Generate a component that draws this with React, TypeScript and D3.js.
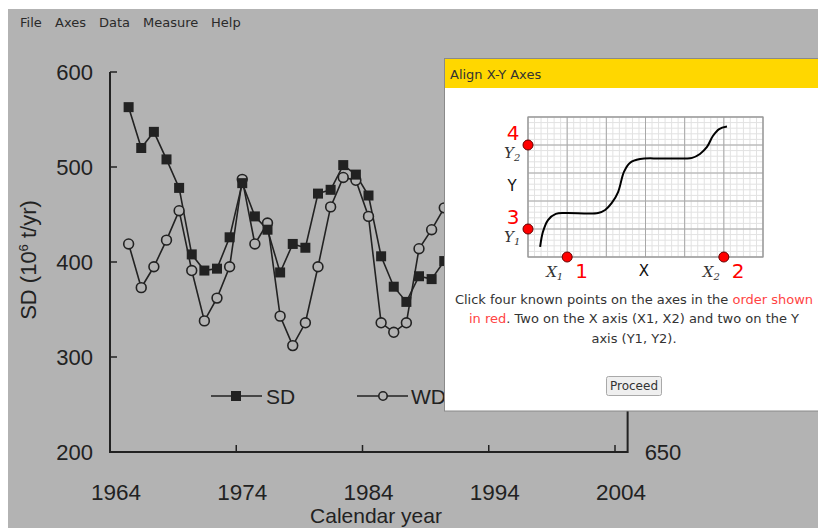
import React from 'react';
import * as d3 from 'd3';

// series (years hidden by the dialog are left out)
const years = [1965, 1966, 1967, 1968, 1969, 1970, 1971, 1972, 1973, 1974, 1975, 1976, 1977,
  1978, 1979, 1980, 1981, 1982, 1983, 1984, 1985, 1986, 1987, 1988, 1989, 1990];
const sdValues = [563, 520, 537, 508, 478, 408, 391, 393, 426, 483, 448, 434, 389,
  419, 415, 472, 476, 502, 492, 470, 406, 374, 358, 385, 382, 401];
const wdValues = [419, 373, 395, 423, 454, 391, 338, 362, 395, 487, 419, 441, 343,
  312, 336, 395, 458, 489, 486, 448, 336, 326, 336, 414, 434, 457];

const xTicks = [1964, 1974, 1984, 1994, 2004];
const yTicks = [200, 300, 400, 500, 600];
const rightLabel = '650';

const menuItems = ['File', 'Axes', 'Data', 'Measure', 'Help'];

// little sketch inside the dialog, in grid units (6 x 5)
const sketchCurve: [number, number][] = [
  [0.31, 0.36], [0.38, 0.89], [0.51, 1.32], [0.71, 1.54], [0.97, 1.57], [1.79, 1.57],
  [1.97, 1.68], [2.14, 1.93], [2.3, 2.32], [2.45, 3.04], [2.6, 3.36], [2.86, 3.5],
  [3.37, 3.52], [4.01, 3.52], [4.19, 3.54], [4.39, 3.68], [4.57, 3.93], [4.72, 4.32],
  [4.88, 4.57], [5.08, 4.66],
];
const sketchDots: { gx: number; gy: number; num: string; label: string; axis: 'x' | 'y' }[] = [
  { gx: 1, gy: 0, num: '1', label: 'X', axis: 'x' },
  { gx: 5, gy: 0, num: '2', label: 'X', axis: 'x' },
  { gx: 0, gy: 1, num: '3', label: 'Y', axis: 'y' },
  { gx: 0, gy: 4, num: '4', label: 'Y', axis: 'y' },
];

const BG = '#b3b3b3';
const INK = '#222';
const ARIAL = '"Liberation Sans", Arial, sans-serif';
const DEJAVU = '"DejaVu Sans", Verdana, sans-serif';

const App = () => {
  const width = 818;
  const height = 528;

  // data scale (points line up with tick labels; the scanned ticks sit 6px left)
  const x = d3.scaleLinear().domain([1964, 2004]).range([116, 621]);
  const tickShift = -6;
  const y = d3.scaleLinear().domain([200, 600]).range([452, 72]);
  const x0 = x(1964) + tickShift;
  const xEnd = x(2005) + tickShift;

  const sdLine = d3.line<number>().x((_, i) => x(years[i])).y((d) => y(d))(sdValues) || undefined;
  const wdLine = d3.line<number>().x((_, i) => x(years[i])).y((d) => y(d))(wdValues) || undefined;

  // dialog sketch scales
  const gx = d3.scaleLinear().domain([0, 6]).range([528, 763]);
  const gy = d3.scaleLinear().domain([0, 5]).range([257, 117]);
  const minorX = d3.range(0, 6.0001, 1 / 6);
  const minorY = d3.range(0, 5.0001, 1 / 5);
  const curve = d3.line().x((d) => gx(d[0])).y((d) => gy(d[1])).curve(d3.curveCatmullRom)(sketchCurve) || undefined;

  const dialogX = 444.5;
  const dialogY = 58.5;
  const dialogBottom = 411;

  return (
    <svg width={width} height={height} style={{ position: 'absolute', left: 0, top: 0 }}>
      <rect x={0} y={0} width={width} height={height} fill="#fff" />
      <rect x={8} y={9} width={width - 8} height={height - 9} fill={BG} />

      {/* menu */}
      <g fontFamily={DEJAVU} fontSize={13} fill="#2a2a2a">
        {menuItems.map((m, i) => (
          <text key={m} x={[20, 55, 99, 143, 211][i]} y={27}>{m}</text>
        ))}
      </g>

      {/* scanned chart */}
      <g stroke={INK} strokeWidth={2} fill="none">
        <line x1={x0} x2={x0} y1={y(600)} y2={y(200) + 1} />
        <line x1={x0} x2={xEnd} y1={y(200)} y2={y(200)} />
        <line x1={xEnd} x2={xEnd} y1={y(600)} y2={y(200) + 1} />
        {yTicks.map((t) => (
          <line key={t} x1={x0} x2={x0 + 7} y1={y(t)} y2={y(t)} strokeWidth={1.5} />
        ))}
        {xTicks.map((t) => (
          <line key={t} x1={x(t) + tickShift} x2={x(t) + tickShift} y1={y(200)} y2={y(200) - 7} strokeWidth={1.5} />
        ))}
      </g>
      <g fontFamily={ARIAL} fill={INK}>
        {yTicks.map((t) => (
          <text key={t} x={93} y={y(t) + 8} textAnchor="end" fontSize={22}>{t}</text>
        ))}
        {xTicks.map((t) => (
          <text key={t} x={x(t)} y={500} textAnchor="middle" fontSize={22.5}>{t}</text>
        ))}
        <text x={xEnd + 17} y={460} fontSize={22}>{rightLabel}</text>
        <text x={376} y={523} textAnchor="middle" fontSize={21}>Calendar year</text>
        <text transform="translate(36, 260) rotate(-90)" textAnchor="middle" fontSize={22}>
          SD (10<tspan dy={-8} fontSize={13}>6</tspan><tspan dy={8}> t/yr)</tspan>
        </text>
      </g>

      {/* series */}
      <path d={wdLine} fill="none" stroke={INK} strokeWidth={1.6} />
      <path d={sdLine} fill="none" stroke={INK} strokeWidth={1.6} />
      {wdValues.map((v, i) => (
        <circle key={`w${i}`} cx={x(years[i])} cy={y(v)} r={4.9} fill={BG} stroke={INK} strokeWidth={1.6} />
      ))}
      {sdValues.map((v, i) => (
        <rect key={`s${i}`} x={x(years[i]) - 5} y={y(v) - 5} width={10} height={10} fill={INK} />
      ))}

      {/* legend */}
      <g stroke={INK} strokeWidth={1.6}>
        <line x1={211} x2={262} y1={396} y2={396} />
        <rect x={231} y={391} width={10} height={10} fill={INK} stroke="none" />
        <line x1={357} x2={408} y1={396} y2={396} />
        <circle cx={383} cy={396} r={4.2} fill={BG} />
      </g>
      <g fontFamily={ARIAL} fontSize={21} fill={INK}>
        <text x={266} y={404}>SD</text>
        <text x={411} y={404}>WD</text>
      </g>

      {/* dialog */}
      <rect x={dialogX} y={dialogY} width={width} height={dialogBottom - dialogY} fill="#fff" stroke="#8a8a8a" strokeWidth={1} />
      <rect x={dialogX + 0.5} y={dialogY + 0.5} width={width} height={29} fill="#ffd700" />
      <text x={450} y={79} fontFamily={DEJAVU} fontSize={13} fill="#333">Align X-Y Axes</text>

      <g>
        {minorX.map((v, i) => (
          <line key={`mx${i}`} x1={gx(v)} x2={gx(v)} y1={gy(0)} y2={gy(5)} stroke="#e2e2e2" strokeWidth={1} />
        ))}
        {minorY.map((v, i) => (
          <line key={`my${i}`} x1={gx(0)} x2={gx(6)} y1={gy(v)} y2={gy(v)} stroke="#e2e2e2" strokeWidth={1} />
        ))}
        {d3.range(0, 7).map((v) => (
          <line key={`Mx${v}`} x1={gx(v)} x2={gx(v)} y1={gy(0)} y2={gy(5)} stroke="#a8a8a8" strokeWidth={1} />
        ))}
        {d3.range(0, 6).map((v) => (
          <line key={`My${v}`} x1={gx(0)} x2={gx(6)} y1={gy(v)} y2={gy(v)} stroke="#a8a8a8" strokeWidth={1} />
        ))}
        <rect x={gx(0)} y={gy(5)} width={gx(6) - gx(0)} height={gy(0) - gy(5)} fill="none" stroke="#999" strokeWidth={1.2} />
        <path d={curve} fill="none" stroke="#000" strokeWidth={2} />
        {sketchDots.map((d) => (
          <circle key={d.num} cx={gx(d.gx)} cy={gy(d.gy)} r={5} fill="#f00" stroke="#600" strokeWidth={1} />
        ))}
        {sketchDots.map((d) => {
          const cx = gx(d.gx);
          const cy = gy(d.gy);
          const sub = d.axis === 'x' ? (d.num === '1' ? '1' : '2') : d.num === '3' ? '1' : '2';
          return d.axis === 'x' ? (
            <g key={`l${d.num}`}>
              <text x={cx - 21} y={277} fontFamily='"DejaVu Serif", serif' fontStyle="italic" fontSize={15} fill="#333">
                {d.label}<tspan dy={3} fontSize={10}>{sub}</tspan>
              </text>
              <text x={cx + 8} y={278} fontFamily={DEJAVU} fontSize={20} fill="#f00">{d.num}</text>
            </g>
          ) : (
            <g key={`l${d.num}`}>
              <text x={cx - 15} y={cy - 5} textAnchor="middle" fontFamily={DEJAVU} fontSize={20} fill="#f00">{d.num}</text>
              <text x={cx - 24} y={cy + 13} fontFamily='"DejaVu Serif", serif' fontStyle="italic" fontSize={15} fill="#333">
                {d.label}<tspan dy={3} fontSize={10}>{sub}</tspan>
              </text>
            </g>
          );
        })}
        <text x={gx(0) - 16} y={191} textAnchor="middle" fontFamily={DEJAVU} fontSize={15} fill="#111">Y</text>
        <text x={644} y={276} textAnchor="middle" fontFamily={DEJAVU} fontSize={15} fill="#111">X</text>
      </g>

      <g fontFamily={DEJAVU} fontSize={13} fill="#333" textAnchor="middle">
        <text x={634} y={304}>
          Click four known points on the axes in the <tspan fill="#ff4444">order shown</tspan>
        </text>
        <text x={634} y={323}>
          <tspan fill="#ff4444">in red</tspan>. Two on the X axis (X1, X2) and two on the Y
        </text>
        <text x={634} y={343}>axis (Y1, Y2).</text>
      </g>

      <rect x={606.5} y={376.5} width={55} height={19} rx={2} fill="#efefef" stroke="#a9a9a9" />
      <text x={634} y={390} textAnchor="middle" fontFamily={DEJAVU} fontSize={12} fill="#333">Proceed</text>
    </svg>
  );
};

export default App;
